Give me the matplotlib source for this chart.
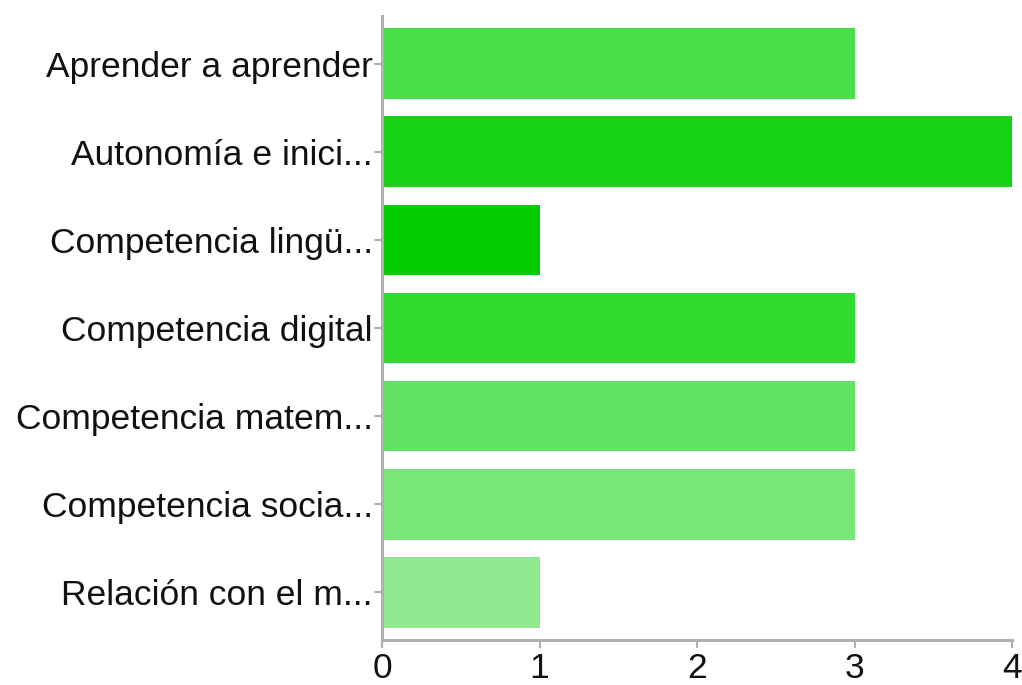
import matplotlib.pyplot as plt
import numpy as np

categories = [
    "Aprender a aprender",
    "Autonomía e inici...",
    "Competencia lingü...",
    "Competencia digital",
    "Competencia matem...",
    "Competencia socia...",
    "Relación con el m...",
]
values = [3, 4, 1, 3, 3, 3, 1]
bar_colors = ["#4adf4a", "#16d316", "#00cc00", "#30dc30", "#62e262", "#79e679", "#8fea8f"]
x_ticks = [0, 1, 2, 3, 4]

plt.rcParams['font.family'] = ['Liberation Sans', 'DejaVu Sans']

fig = plt.figure(figsize=(10.22, 6.85), dpi=100)
ax = fig.add_axes([382 / 1022, 45 / 685, 630 / 1022, 624 / 685])

y = np.arange(len(categories))
ax.barh(y, values, height=0.8, color=bar_colors, zorder=2)

ax.set_xlim(0, 4)
ax.set_ylim(len(categories) - 0.46, -0.54)
ax.set_yticks(y)
ax.set_yticklabels(categories)
ax.set_xticks(x_ticks)
ax.set_xticklabels([str(t) for t in x_ticks])

axis_gray = "#b0b0b0"
for side in ["top", "right"]:
    ax.spines[side].set_visible(False)
for side in ["left", "bottom"]:
    ax.spines[side].set_color(axis_gray)
    ax.spines[side].set_linewidth(2.2)

ax.tick_params(axis="both", colors=axis_gray, length=6, width=1.5,
               labelcolor="#111111", labelsize=25.5)
ax.tick_params(axis="y", pad=0.5)
ax.tick_params(axis="x", pad=3)

fig.savefig("out.png", dpi=100)
